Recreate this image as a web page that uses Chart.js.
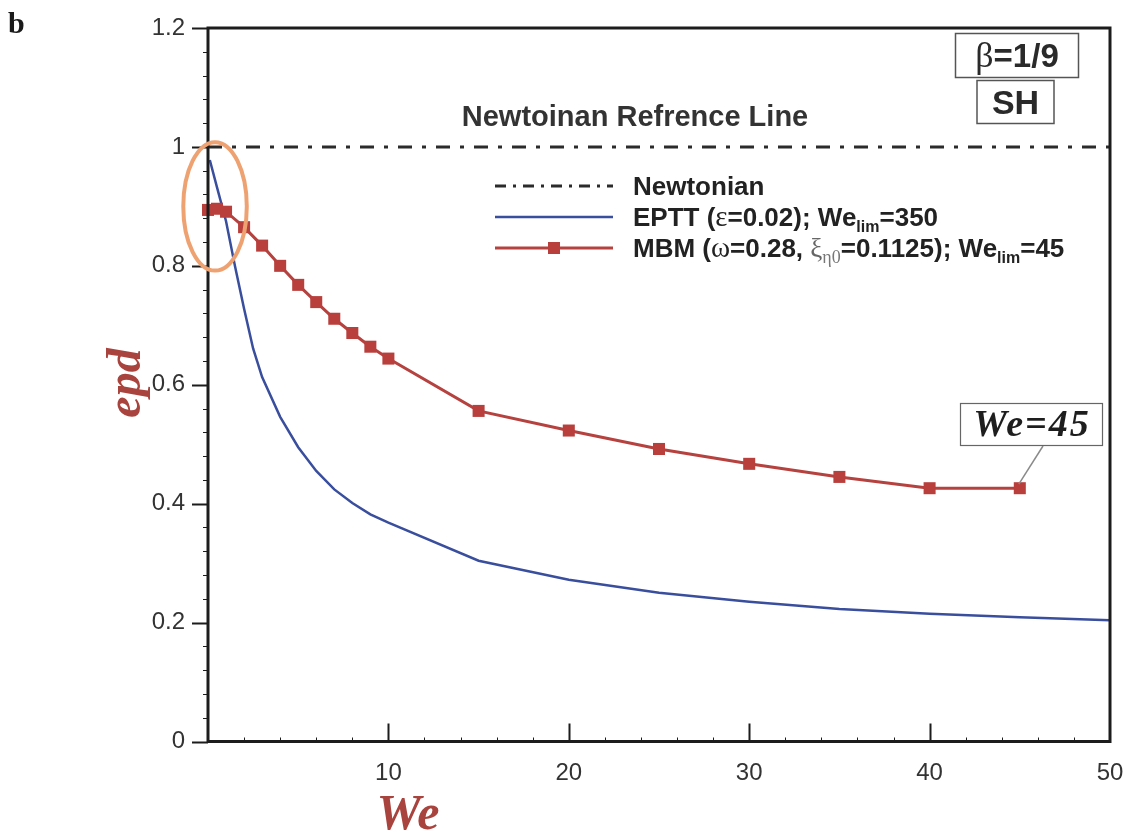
<!DOCTYPE html>
<html>
<head>
<meta charset="utf-8">
<script src="https://cdn.jsdelivr.net/npm/chart.js@4.4.1/dist/chart.umd.min.js"></script>
<style>
  html, body { margin: 0; padding: 0; background: #ffffff; }
  canvas { display: block; }
</style>
</head>
<body>
<canvas id="chart" width="1128" height="835"></canvas>
<script>
// Newtonian reference level
const weNewtonian  = [0, 50];
const epdNewtonian = [1, 1];

// EPTT (epsilon = 0.02)
const weEPTT  = [0.1, 0.5, 1, 1.5, 2, 2.5, 3, 4, 5, 6, 7, 8, 9, 10, 15, 20, 25, 30, 35, 40, 45, 50];
const epdEPTT = [0.978, 0.932, 0.875, 0.799, 0.728, 0.661, 0.613, 0.546, 0.495, 0.455, 0.424, 0.401, 0.382, 0.368,
                 0.304, 0.272, 0.250, 0.235, 0.223, 0.215, 0.209, 0.204];

// MBM (omega = 0.28, xi = 0.1125)
const weMBM  = [0, 0.5, 1, 2, 3, 4, 5, 6, 7, 8, 9, 10, 15, 20, 25, 30, 35, 40, 45];
const epdMBM = [0.894, 0.896, 0.891, 0.865, 0.834, 0.800, 0.768, 0.739, 0.711, 0.687, 0.664, 0.644,
                0.556, 0.523, 0.492, 0.467, 0.445, 0.426, 0.426];

// Axis tick values
const xTickValues = [10, 20, 30, 40, 50];
const yTickValues = [0, 0.2, 0.4, 0.6, 0.8, 1.0, 1.2];

const toPoints = (xs, ys) => xs.map((v, i) => ({ x: v, y: ys[i] }));

const TEXT = '#222222';
const TITLE_RED = '#a8433e';
const BLUE = '#3a4e9e';
const RED = '#b5423f';
const NEWT_DASH = [14, 10, 4, 10];

function drawRich(ctx, x, y, parts) {
  let cx = x;
  for (const p of parts) {
    ctx.font = p.font;
    ctx.fillStyle = p.color || TEXT;
    ctx.fillText(p.t, cx, y + (p.dy || 0));
    cx += ctx.measureText(p.t).width;
  }
  return cx;
}

const decorations = {
  id: 'decorations',
  afterDraw(chart) {
    const { ctx, chartArea: a, scales: { x, y } } = chart;
    ctx.save();

    // plot frame
    ctx.strokeStyle = '#1c1c1c';
    ctx.lineWidth = 3;
    ctx.setLineDash([]);
    ctx.strokeRect(a.left, a.top, a.right - a.left, a.bottom - a.top);

    // y ticks: major outward, minor outward short
    ctx.lineWidth = 2;
    ctx.beginPath();
    for (const v of yTickValues) {
      const py = Math.round(y.getPixelForValue(v)) + 0.5;
      ctx.moveTo(a.left - 16, py); ctx.lineTo(a.left, py);
    }
    ctx.stroke();
    ctx.lineWidth = 1;
    ctx.beginPath();
    for (let k = 1; k < 30; k++) {
      if (k % 5 === 0) continue;
      const py = Math.round(y.getPixelForValue(k * 0.04)) + 0.5;
      ctx.moveTo(a.left - 5, py); ctx.lineTo(a.left, py);
    }
    ctx.stroke();

    // x ticks: major inward, minor inward short
    ctx.lineWidth = 2;
    ctx.beginPath();
    for (const v of xTickValues) {
      if (v >= 50) continue;
      const px = Math.round(x.getPixelForValue(v)) + 0.5;
      ctx.moveTo(px, a.bottom); ctx.lineTo(px, a.bottom - 18);
    }
    ctx.stroke();
    ctx.lineWidth = 1;
    ctx.beginPath();
    for (let v = 2; v < 50; v += 2) {
      if (v % 10 === 0) continue;
      const px = Math.round(x.getPixelForValue(v)) + 0.5;
      ctx.moveTo(px, a.bottom); ctx.lineTo(px, a.bottom - 4);
    }
    ctx.stroke();

    // reference line caption
    ctx.fillStyle = '#333333';
    ctx.font = 'bold 29px "Liberation Sans", Arial, sans-serif';
    ctx.textAlign = 'center';
    ctx.textBaseline = 'alphabetic';
    ctx.fillText('Newtoinan Refrence Line', 635, 126);

    // legend
    const ds = chart.data.datasets;
    const lx0 = 495, lx1 = 613, tx = 633;
    const rows = [186, 217, 248];
    ctx.textAlign = 'left';
    // Newtonian
    ctx.strokeStyle = ds[0].borderColor;
    ctx.lineWidth = 3;
    ctx.setLineDash([11, 7, 3, 7]);
    ctx.beginPath(); ctx.moveTo(lx0, rows[0]); ctx.lineTo(lx1, rows[0]); ctx.stroke();
    ctx.setLineDash([]);
    // EPTT
    ctx.strokeStyle = ds[1].borderColor;
    ctx.lineWidth = ds[1].borderWidth;
    ctx.beginPath(); ctx.moveTo(lx0, rows[1]); ctx.lineTo(lx1, rows[1]); ctx.stroke();
    // MBM
    ctx.strokeStyle = ds[2].borderColor;
    ctx.lineWidth = ds[2].borderWidth;
    ctx.beginPath(); ctx.moveTo(lx0, rows[2]); ctx.lineTo(lx1, rows[2]); ctx.stroke();
    ctx.fillStyle = ds[2].pointBackgroundColor;
    ctx.fillRect(554 - 6, rows[2] - 6, 12, 12);

    const B = 'bold 26px "Liberation Sans", Arial, sans-serif';
    const G = '29px "Liberation Serif", "DejaVu Serif", serif';
    const S = 'bold 16px "Liberation Sans", Arial, sans-serif';
    drawRich(ctx, tx, rows[0] + 9, [{ t: 'Newtonian', font: B }]);
    drawRich(ctx, tx, rows[1] + 9, [
      { t: 'EPTT (', font: B }, { t: 'ε', font: G }, { t: '=0.02); We', font: B },
      { t: 'lim', font: S, dy: 6 }, { t: '=350', font: B }
    ]);
    drawRich(ctx, tx, rows[2] + 9, [
      { t: 'MBM (', font: B }, { t: 'ω', font: G }, { t: '=0.28, ', font: B },
      { t: 'ξ', font: '27px "Liberation Serif", "DejaVu Serif", serif', color: '#666666' },
      { t: 'η0', font: '18px "Liberation Serif", "DejaVu Serif", serif', color: '#777777', dy: 6 },
      { t: '=0.1125); We', font: B }, { t: 'lim', font: S, dy: 6 }, { t: '=45', font: B }
    ]);

    // parameter boxes
    ctx.strokeStyle = '#555555';
    ctx.lineWidth = 1.5;
    ctx.strokeRect(955.5, 33.5, 123, 44);
    ctx.strokeRect(977, 80.5, 77, 43);
    ctx.textAlign = 'left';
    ctx.font = '36px "Liberation Serif", serif';
    const wb = ctx.measureText('β').width;
    ctx.font = 'bold 33px "Liberation Sans", Arial, sans-serif';
    const bw1 = wb + ctx.measureText('=1/9').width;
    drawRich(ctx, 1017 - bw1 / 2, 67, [
      { t: 'β', font: '36px "Liberation Serif", serif', color: '#2a2a2a' },
      { t: '=1/9', font: 'bold 33px "Liberation Sans", Arial, sans-serif', color: '#2a2a2a' }
    ]);
    ctx.textAlign = 'center';
    ctx.font = 'bold 34px "Liberation Sans", Arial, sans-serif';
    ctx.fillStyle = '#2a2a2a';
    ctx.fillText('SH', 1015.5, 114);

    // end-point label for MBM
    const ex = x.getPixelForValue(weMBM[weMBM.length - 1]);
    const ey = y.getPixelForValue(epdMBM[epdMBM.length - 1]);
    ctx.strokeStyle = '#8a8a8a';
    ctx.lineWidth = 1.5;
    ctx.beginPath(); ctx.moveTo(1043, 446); ctx.lineTo(ex - 1, ey - 4); ctx.stroke();
    ctx.fillStyle = '#ffffff';
    ctx.fillRect(960, 403, 143, 43);
    ctx.strokeStyle = '#666666';
    ctx.lineWidth = 1.2;
    ctx.strokeRect(960.5, 403.5, 142, 42);
    ctx.fillStyle = '#1e1e1e';
    ctx.font = 'italic bold 38px "Liberation Serif", "Times New Roman", serif';
    ctx.letterSpacing = '2px';
    ctx.fillText('We=45', 1032, 436);
    ctx.letterSpacing = '0px';

    // highlight ellipse near the origin
    const cx = x.getPixelForValue(0.39), cy = y.getPixelForValue(0.9);
    const rx = x.getPixelForValue(1.76) - x.getPixelForValue(0);
    const ry = y.getPixelForValue(0) - y.getPixelForValue(0.108);
    ctx.strokeStyle = '#eea272';
    ctx.lineWidth = 4;
    ctx.beginPath(); ctx.ellipse(cx, cy, rx, ry, 0, 0, Math.PI * 2); ctx.stroke();

    // axis titles
    ctx.fillStyle = TITLE_RED;
    ctx.font = 'italic bold 50px "Liberation Serif", "Times New Roman", serif';
    ctx.textAlign = 'center';
    ctx.fillText('We', 408, 829);
    ctx.font = 'italic bold 48px "Liberation Serif", "Times New Roman", serif';
    ctx.save();
    ctx.translate(140, 383);
    ctx.rotate(-Math.PI / 2);
    ctx.fillText('epd', 0, 0);
    ctx.restore();

    // panel letter
    ctx.fillStyle = '#1a1a1a';
    ctx.font = 'bold 30px "Liberation Serif", "Times New Roman", serif';
    ctx.textAlign = 'left';
    ctx.fillText('b', 8, 33);

    ctx.restore();
  }
};

new Chart(document.getElementById('chart'), {
  type: 'line',
  data: {
    datasets: [
      {
        label: 'Newtonian',
        data: toPoints(weNewtonian, epdNewtonian),
        borderColor: '#2b2b2b',
        borderWidth: 3,
        borderDash: NEWT_DASH,
        pointRadius: 0,
        order: 2
      },
      {
        label: 'EPTT',
        data: toPoints(weEPTT, epdEPTT),
        borderColor: BLUE,
        borderWidth: 2.5,
        pointRadius: 0,
        tension: 0,
        order: 1
      },
      {
        label: 'MBM',
        data: toPoints(weMBM, epdMBM),
        borderColor: RED,
        borderWidth: 3,
        pointStyle: 'rect',
        pointRadius: 8.5,
        pointBorderWidth: 0,
        pointBackgroundColor: '#b83f3c',
        pointBorderColor: '#b83f3c',
        clip: false,
        order: 0
      }
    ]
  },
  options: {
    responsive: false,
    devicePixelRatio: 1,
    animation: false,
    layout: { padding: { top: 28, right: 18, left: 0, bottom: 0 } },
    plugins: { legend: { display: false }, tooltip: { enabled: false } },
    scales: {
      x: {
        type: 'linear',
        min: 0,
        max: 50,
        grid: { display: false, drawTicks: false },
        border: { display: false },
        afterBuildTicks: s => { s.ticks = xTickValues.map(v => ({ value: v })); },
        afterFit: s => { s.height = 93.5; s.paddingLeft = 0; s.paddingRight = 0; },
        ticks: {
          color: '#333333',
          font: { family: '"Liberation Sans", Arial, sans-serif', size: 24 },
          padding: 17,
          maxRotation: 0,
          callback: v => String(v)
        }
      },
      y: {
        type: 'linear',
        min: 0,
        max: 1.2,
        grid: { display: false, drawTicks: false },
        border: { display: false },
        afterBuildTicks: s => { s.ticks = yTickValues.map(v => ({ value: v })); },
        afterFit: s => { s.width = 208; s.paddingTop = 0; s.paddingBottom = 0; },
        ticks: {
          color: '#333333',
          font: { family: '"Liberation Sans", Arial, sans-serif', size: 24 },
          padding: 23,
          callback: v => String(Number(v.toFixed(1)))
        }
      }
    }
  },
  plugins: [decorations]
});
</script>
</body>
</html>
